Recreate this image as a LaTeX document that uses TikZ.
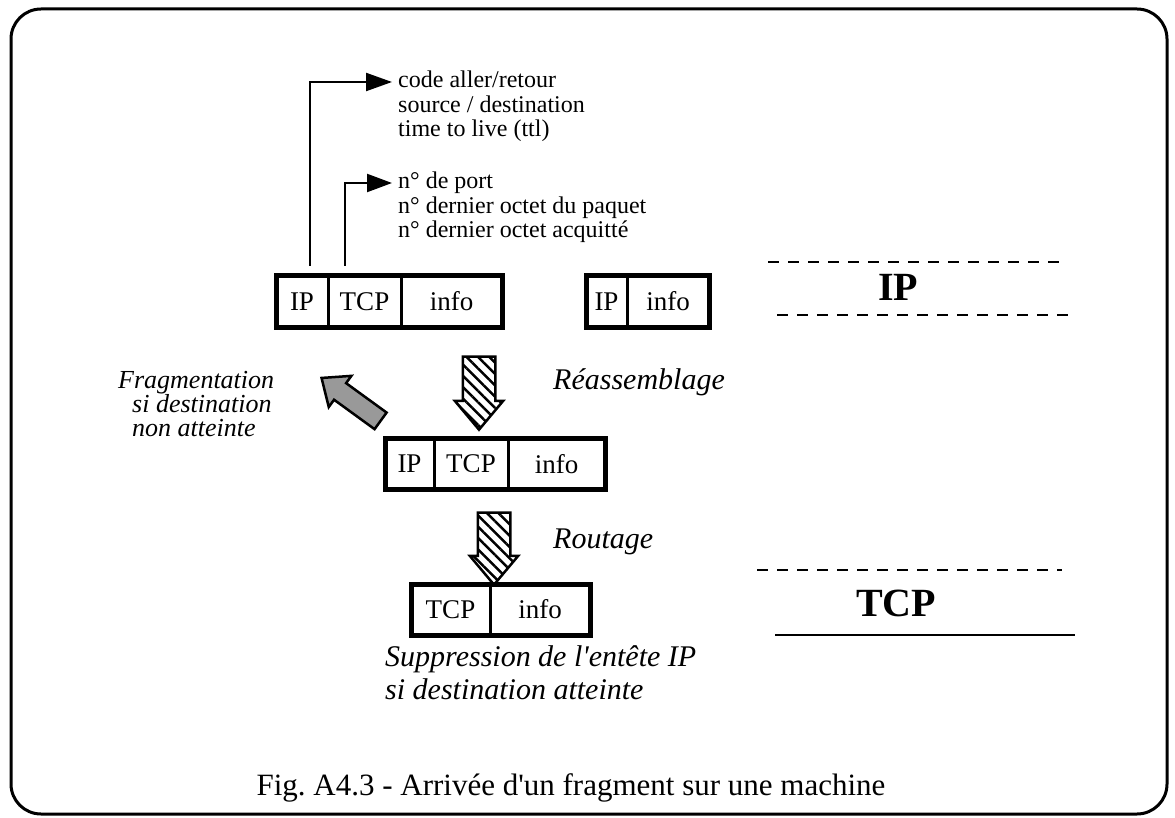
\documentclass[tikz,border=0pt]{standalone}
\usepackage{fontspec}
\setmainfont{Liberation Serif}
\usetikzlibrary{positioning,arrows.meta,shapes.arrows,patterns.meta}

\tikzset{
  cell/.style={draw,line width=3pt,minimum height=51,inner sep=0,outer sep=0,
    font=\fontsize{27}{27}\selectfont},
  hatched/.style={single arrow,draw,line width=2.5pt,inner sep=15pt,
    pattern={Lines[angle=-45,distance=8pt,line width=2.5pt]},
    minimum height=73,single arrow head extend=8,
    single arrow tip angle=80,shape border rotate=270},
  notes/.style={align=left,inner sep=0,anchor=north west,
    font=\fontsize{24}{24.5}\selectfont},
  layer/.style={font=\fontsize{40}{40}\selectfont\bfseries},
  remark/.style={align=left,inner sep=0,font=\fontsize{30}{33}\selectfont\itshape},
  sep/.style={line width=2.5pt,dash pattern=on 11pt off 9pt}
}

\begin{document}
\begin{tikzpicture}[x=1pt,y=-1pt]
\useasboundingbox (0,0) rectangle (1175,818);
\draw[line width=3pt,rounded corners=30pt] (11,9) rectangle (1167,814);

% fragment recu
\node[cell,minimum width=52] (ipA) at (302,301.5) {IP};
\node[cell,minimum width=73,right=0pt of ipA] (tcpA) {TCP};
\node[cell,minimum width=101,right=0pt of tcpA] (infoA) {info};
\draw[line width=5pt] (ipA.north west) rectangle (infoA.south east);

% autre fragment
\node[cell,minimum width=41] (ipB) at (606.5,301.5) {IP};
\node[cell,minimum width=82,right=0pt of ipB] (infoB) {info};
\draw[line width=5pt] (ipB.north west) rectangle (infoB.south east);

% champs des entetes
\node[notes] (codes) at (398,71) {code aller/retour\\source / destination\\time to live (ttl)};
\node[notes] (ports) at (398,172) {n° de port\\n° dernier octet du paquet\\n° dernier octet acquitté};
\draw[line width=2.2pt,-{Triangle[length=26pt,width=18pt]}] ([xshift=8pt,yshift=10pt]ipA.north) |- ([xshift=-6pt,yshift=-11pt]codes.north west);
\draw[line width=2.2pt,-{Triangle[length=25pt,width=18pt]}] ([xshift=-19.5pt,yshift=10pt]tcpA.north) |- ([xshift=-6pt,yshift=-11pt]ports.north west);

% reassemblage
\node[hatched] (down1) at (479,383.5) {};
\node[remark,anchor=west] (reas) at (553,382) {Réassemblage};

\node[cell,minimum width=49] (ipC) at (409.5,464) {IP};
\node[cell,minimum width=74,right=0pt of ipC] (tcpC) {TCP};
\node[cell,minimum width=97,right=0pt of tcpC] (infoC) {info};
\draw[line width=5pt] (ipC.north west) rectangle (infoC.south east);

% fragmentation
\node[single arrow,draw,line width=2.5pt,fill=black!40,inner sep=9pt,
  minimum height=73,single arrow head extend=9,single arrow tip angle=80,
  rotate=144] (frag) at (356,403) {};
\node[remark,anchor=north west,font=\fontsize{26}{24}\selectfont\itshape] (fragtxt) at (118,371)
  {Fragmentation\\\hspace*{14pt}si destination\\\hspace*{14pt}non atteinte};

% routage
\node[hatched,minimum height=72] (down2) at (494,539) {};
\node[remark,anchor=west] (rout) at (553,542) {Routage};

\node[cell,minimum width=79] (tcpD) at (450.5,609.5) {TCP};
\node[cell,minimum width=100,right=0pt of tcpD] (infoD) {info};
\draw[line width=5pt] (tcpD.north west) rectangle (infoD.south east);

\node[remark,anchor=north west] (supp) at (385,645) {Suppression de l\textquotesingle entête IP\\si destination atteinte};

% couches
\draw[sep] (768,262) -- (1068,262);
\node[layer] (iplayer) at (898,287) {IP};
\draw[sep] (777,315) -- (1072,315);
\draw[sep] (757,570) -- (1062,570);
\node[layer] (tcplayer) at (896,603) {TCP};
\draw[line width=1.2pt] (775,635) -- (1075,635);

\node[font=\fontsize{31}{31}\selectfont] (caption) at (571,788) {Fig.\ A4.3 - Arrivée d\textquotesingle un fragment sur une machine};
\end{tikzpicture}
\end{document}
